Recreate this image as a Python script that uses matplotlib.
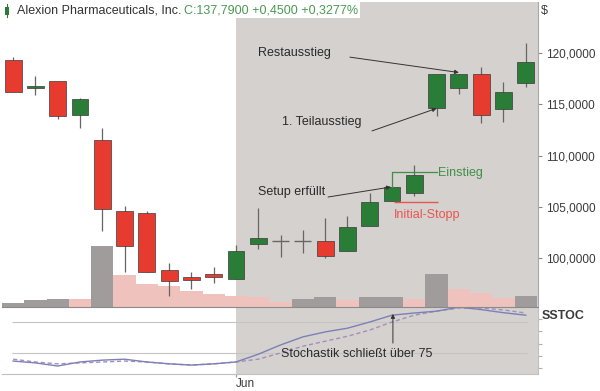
import numpy as np
import matplotlib
matplotlib.use('Agg')
import matplotlib.pyplot as plt
from matplotlib.patches import Rectangle
from matplotlib.lines import Line2D

plt.rcParams['font.family'] = ['Liberation Sans', 'DejaVu Sans']

# daily candles (open, high, low, close)
opens = [119.3, 116.55, 117.3, 114.0, 111.5, 104.6, 104.4, 98.8, 98.1, 98.4, 98.0, 101.4,
         101.65, 101.65, 101.7, 100.7, 103.1, 105.6, 106.3, 114.6, 116.6, 118.0, 114.5, 117.1]
highs = [119.6, 117.8, 117.3, 115.6, 112.7, 105.1, 104.6, 99.5, 98.6, 99.1, 101.3, 104.9,
         102.2, 102.7, 103.9, 104.1, 106.3, 106.95, 109.05, 118.0, 118.0, 118.6, 117.2, 121.0]
lows = [116.2, 115.9, 113.6, 112.7, 102.6, 98.6, 98.6, 96.3, 97.0, 97.6, 98.0, 100.9,
        100.1, 100.5, 100.0, 100.7, 103.1, 105.55, 106.05, 113.9, 116.0, 113.2, 113.3, 116.7]
closes = [116.2, 116.75, 113.9, 115.5, 104.8, 101.2, 98.6, 97.8, 97.85, 98.1, 100.7, 102.0,
          101.65, 101.65, 100.2, 103.0, 105.5, 106.93, 108.1, 118.0, 118.0, 114.0, 116.2, 119.1]
volumes = [0.4, 0.7, 0.8, 0.78, 6.1, 3.2, 2.3, 2.1, 1.6, 1.3, 1.1, 1.05,
           0.5, 0.8, 1.0, 0.7, 1.0, 1.05, 0.8, 3.3, 1.8, 1.4, 0.9, 1.1]

# slow stochastic (%K solid, %D dashed)
stoch_k = [12, 9, 4, 10.5, 13.5, 15, 10.5, 7.5, 5.5, 7.5, 10.5, 23, 38, 51, 59, 65, 75,
           86, 89.5, 92.5, 99, 95, 90, 86]
stoch_d = [15, 10.5, 7.5, 9, 10.5, 12, 10.5, 7.5, 5.5, 7.5, 10.5, 15, 25, 36, 44, 52, 62,
           75, 86, 92.5, 97.5, 97.5, 94.5, 89.5]

price_ticks = [100, 105, 110, 115, 120]
shade_start = 10
stop_level = 105.45

RED = '#e63b2e'
GREEN = '#2a7d36'
SHADE = '#d5d1cf'
x = np.arange(len(opens))

fig = plt.figure(figsize=(6, 3.91), dpi=100)
W, H = 600.0, 391.0


def pos(left, top, right, bottom):
    return [left / W, 1 - bottom / H, (right - left) / W, (bottom - top) / H]


ax_vol = fig.add_axes(pos(2, 2, 538, 307))
ax = fig.add_axes(pos(2, 2, 538, 307), sharex=ax_vol)
ax_st = fig.add_axes(pos(2, 307, 538, 374), sharex=ax_vol)
ax_vol.set_zorder(0)
ax.set_zorder(1)
ax.patch.set_visible(False)

# volume, gray when rising, pink when falling
vol_colors = ['#9f9c9b' if i == 0 or volumes[i] >= volumes[i - 1] else '#f0c2be'
              for i in range(len(volumes))]
ax_vol.axvspan(shade_start, 30, color=SHADE, lw=0, zorder=0)
ax_vol.bar(x, volumes, width=1.0, color=vol_colors, lw=0, zorder=1)
ax_vol.set_ylim(0, 30.5)
ax_vol.set_xlim(-0.5, 23.55)
ax_vol.axis('off')

# candles
for i in x:
    ax.vlines(i, lows[i], highs[i], color='#666666', lw=0.9, zorder=2)
    if opens[i] == closes[i]:
        ax.hlines(opens[i], i - 0.38, i + 0.38, color='#666666', lw=1.0, zorder=3)
        continue
    col = GREEN if closes[i] > opens[i] else RED
    lo = min(opens[i], closes[i])
    ax.add_patch(Rectangle((i - 0.38, lo), 0.76, abs(closes[i] - opens[i]),
                           facecolor=col, edgecolor='#3a3a3a', lw=0.5, zorder=3))

ax.set_ylim(95.22, 124.98)
ax.yaxis.tick_right()
ax.set_yticks(price_ticks)
ax.set_yticklabels(['%d,0000' % p for p in price_ticks])
ax.tick_params(axis='y', length=3, color='#888888', labelsize=8.5, labelcolor='#3a3a3a', pad=3)
ax.tick_params(axis='x', bottom=False, labelbottom=False)
for s in ['top', 'left']:
    ax.spines[s].set_visible(False)
ax.spines['right'].set_color('#a8a8a8')
ax.spines['bottom'].set_color('#8a8a8a')

# annotations on price panel
arr = dict(arrowstyle='-|>', color='#333333', lw=0.7, mutation_scale=6, shrinkA=0, shrinkB=0)
ax.text(10.99, 120.0, 'Restausstieg', fontsize=9, color='#2a2a2a', va='center')
ax.annotate('', xy=(20.0, 118.1), xytext=(15.11, 119.6), arrowprops=arr)
ax.text(12.06, 113.27, '1. Teilausstieg', fontsize=9, color='#2a2a2a', va='center')
ax.annotate('', xy=(19.0, 114.6), xytext=(16.1, 112.4), arrowprops=arr)
ax.text(10.99, 106.44, 'Setup erfüllt', fontsize=9, color='#2a2a2a', va='center')
ax.annotate('', xy=(16.95, 106.93), xytext=(14.13, 105.95), arrowprops=arr)

ax.plot([17.0, 17.0, 19.02], [106.93, 108.39, 108.39], color='#3f8f45', lw=0.9, zorder=4)
ax.text(19.07, 108.3, 'Einstieg', fontsize=9, color='#3f8f45', va='center')
ax.hlines(stop_level, 17.09, 19.06, color='#e8554e', lw=1.0, zorder=4)
ax.text(17.09, 104.2, 'Initial-Stopp', fontsize=9, color='#e8554e', va='center')

# stochastic panel
ax_st.axvspan(shade_start, 30, color=SHADE, lw=0, zorder=0)
ax_st.hlines([75, 25], -0.05, 23.05, color='#c4c4c4', lw=0.8, zorder=1)
ax_st.plot(x, stoch_d, color='#a290ba', lw=1.0, ls=(0, (3, 2)), zorder=2)
ax_st.plot(x, stoch_k, color='#7c80b6', lw=1.0, zorder=3)
ax_st.set_ylim(-8.9, 99.2)
ax_st.set_xlim(-0.5, 23.55)
ax_st.yaxis.tick_right()
ax_st.set_yticks([0, 20, 40, 60, 80])
ax_st.set_yticklabels([])
ax_st.tick_params(axis='y', length=3, color='#b0b0b0')
ax_st.set_xticks([shade_start])
ax_st.set_xticklabels(['Jun'], ha='left')
ax_st.tick_params(axis='x', length=2, color='#999999', labelsize=8.5, labelcolor='#3a3a3a', pad=1)
for s in ['top', 'left']:
    ax_st.spines[s].set_visible(False)
ax_st.spines['right'].set_color('#c0c0c0')
ax_st.spines['bottom'].set_color('#c0c0c0')
ax_st.text(15.43, 23.4, 'Stochastik schließt über 75', fontsize=9, color='#2a2a2a',
           ha='center', va='center', zorder=4)
ax_st.annotate('', xy=(17.04, 88), xytext=(17.04, 41), arrowprops=arr)

fig.text(542 / W, 1 - 316 / H, 'SSTOC', fontsize=9, fontweight='bold', color='#3a3a3a', va='center')
fig.text(541 / W, 1 - 11 / H, '$', fontsize=9, color='#3a3a3a', va='center')

# title bar with small candle icon
fig.patches.append(Rectangle((0, 1 - 18 / H), 360 / W, 18 / H, transform=fig.transFigure,
                             facecolor='white', edgecolor='none', zorder=2))
fig.lines.append(Line2D([6.5 / W, 6.5 / W], [1 - 4 / H, 1 - 17 / H], transform=fig.transFigure,
                        color='#3a6e3a', lw=0.8, zorder=3))
fig.patches.append(Rectangle((5 / W, 1 - 15 / H), 3.5 / W, 8 / H, transform=fig.transFigure,
                             facecolor=GREEN, edgecolor='none', zorder=3))
fig.text(17 / W, 1 - 10.5 / H, 'Alexion Pharmaceuticals, Inc.', fontsize=9, color='#333333',
         va='center', zorder=4)
fig.text(184 / W, 1 - 10.5 / H, 'C:137,7900 +0,4500 +0,3277%', fontsize=9, color='#4a9a52',
         va='center', zorder=4)

fig.savefig('out.png', dpi=100)
